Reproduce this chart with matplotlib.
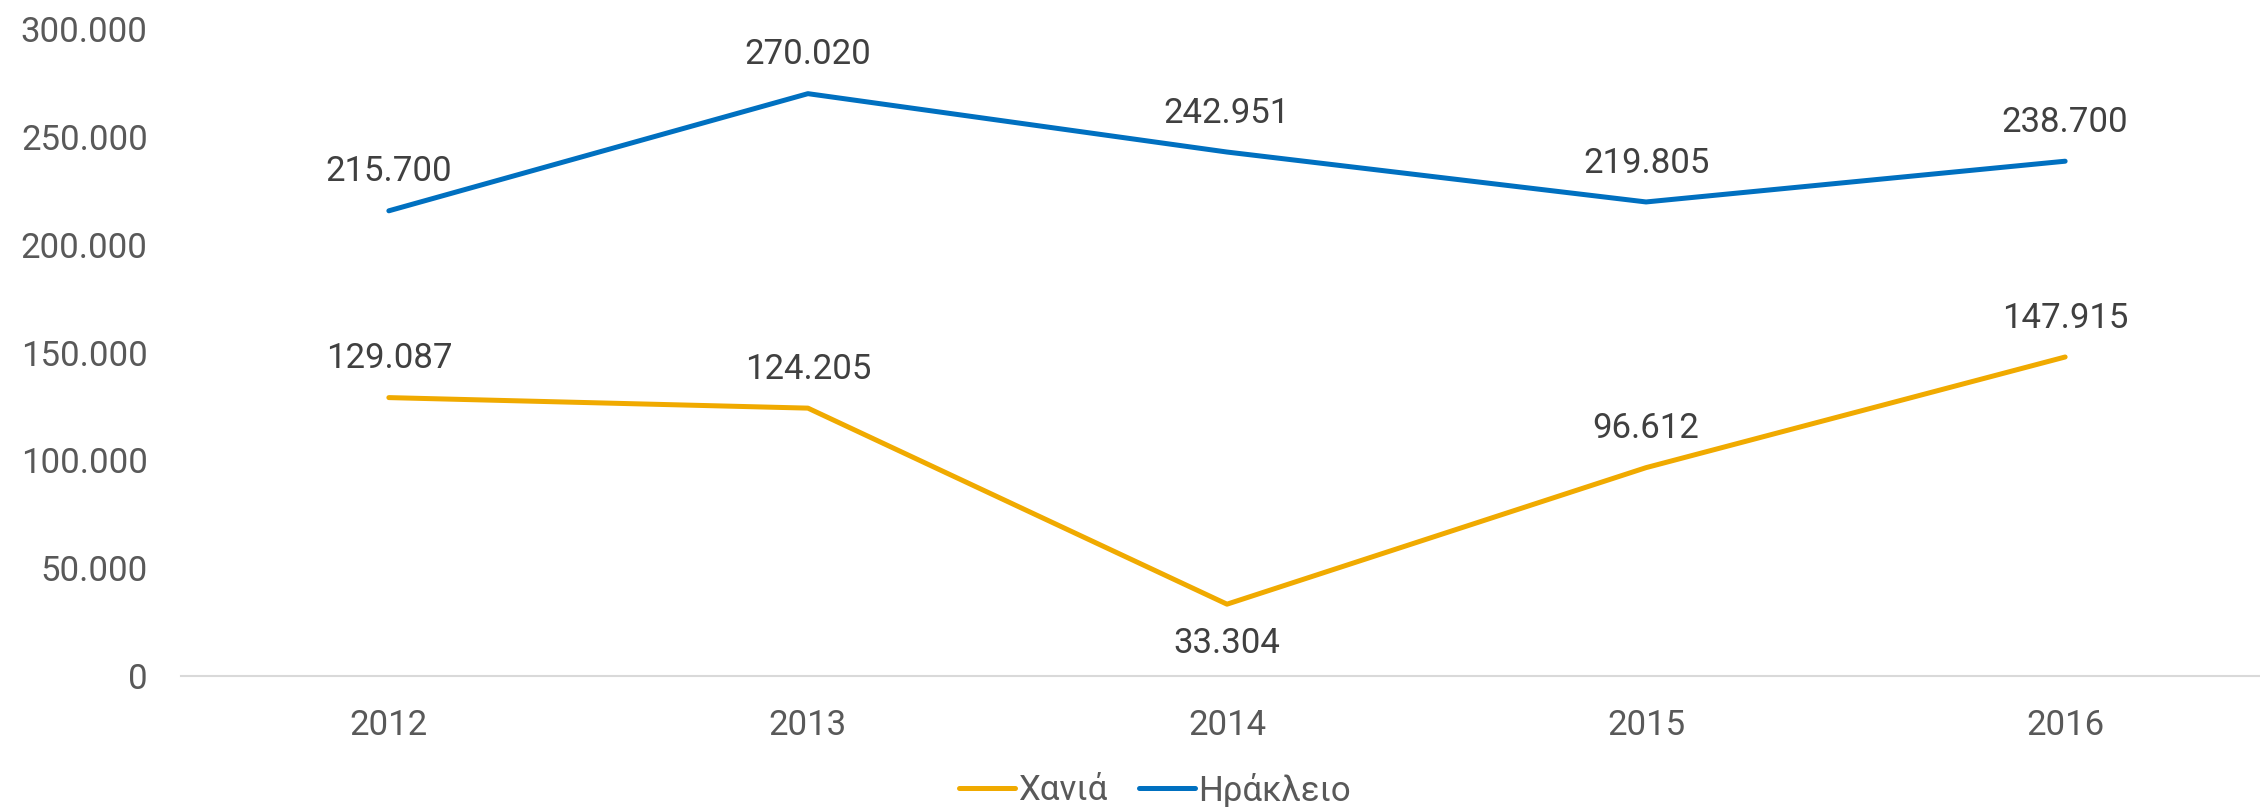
import matplotlib
matplotlib.use("Agg")
import matplotlib.pyplot as plt
from matplotlib.ticker import FuncFormatter

years = ["2012", "2013", "2014", "2015", "2016"]
chania = [129087, 124205, 33304, 96612, 147915]
heraklion = [215700, 270020, 242951, 219805, 238700]
yticks = [0, 50000, 100000, 150000, 200000, 250000, 300000]

plt.rcParams['font.family'] = ['Roboto', 'DejaVu Sans']


def fmt(v):
    return f"{int(v):,}".replace(",", ".")


fig = plt.figure(figsize=(22.6, 8.07), dpi=100)
ax = fig.add_axes([181 / 2260, 1 - 676 / 807, 1 - 181 / 2260, (676 - 29) / 807])

x = list(range(len(years)))
ax.plot(x, chania, color='#F0AA00', lw=3.6, label='Χανιά', solid_capstyle='round')
ax.plot(x, heraklion, color='#0070C0', lw=3.6, label='Ηράκλειο', solid_capstyle='round')

# data labels
for i, v in enumerate(heraklion):
    ax.annotate(fmt(v), (i, v), xytext=(0, 28), textcoords='offset points',
                ha='center', va='center', fontsize=25, color='#404040')
for i, v in enumerate(chania):
    dy = -28 if i == 2 else 28
    ax.annotate(fmt(v), (i, v), xytext=(0, dy), textcoords='offset points',
                ha='center', va='center', fontsize=25, color='#404040')

ax.set_xlim(-0.496, 4.465)
ax.set_ylim(0, 300000)
ax.set_xticks(x)
ax.set_xticklabels(years)
ax.set_yticks(yticks)
ax.yaxis.set_major_formatter(FuncFormatter(lambda v, p: fmt(v)))
ax.tick_params(axis='both', length=0, labelsize=25, labelcolor='#595959')
ax.tick_params(axis='x', pad=24)
ax.tick_params(axis='y', pad=24)

for s in ['top', 'right', 'left']:
    ax.spines[s].set_visible(False)
ax.spines['bottom'].set_color('#D9D9D9')
ax.spines['bottom'].set_linewidth(1.5)

leg = fig.legend(loc='center', bbox_to_anchor=(1155 / 2260, 1 - 790 / 807), ncol=2,
                 frameon=False, fontsize=25, handlelength=1.6, handletextpad=0.1,
                 columnspacing=0.9, labelcolor='#595959')

fig.savefig("out.png", dpi=100)
